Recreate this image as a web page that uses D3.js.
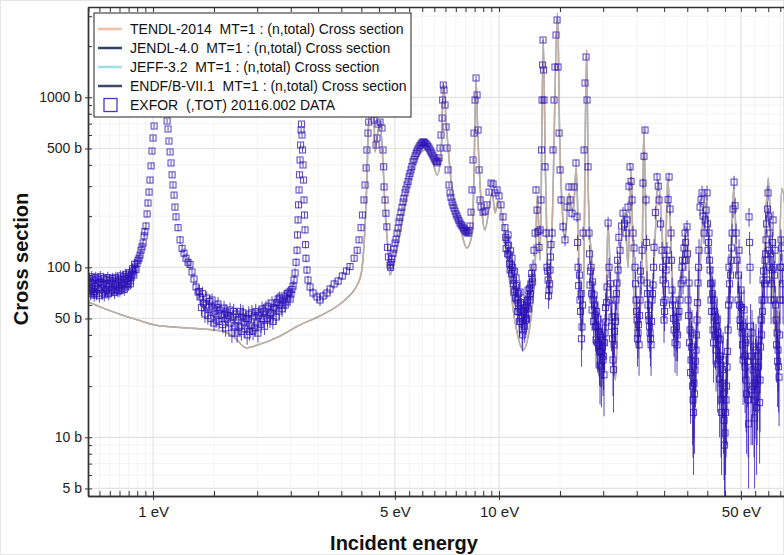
<!DOCTYPE html>
<html>
<head>
<meta charset="utf-8">
<script src="https://cdn.jsdelivr.net/npm/d3@7"></script>
<style>
  body { margin: 0; background: #fff; }
  text { font-family: "Liberation Sans", Arial, sans-serif; }
</style>
</head>
<body>
<div id="chart"></div>
<script>
// ---- data ----

// evaluated libraries (they coincide at this scale)
const libraries = ["TENDL-2014", "JENDL-4.0", "JEFF-3.2", "ENDF/B-VII.1"];
const libraryColors = ["#f2bfa2", "#2d4466", "#9fdede", "#3b4a6b"];

const evalEnergy = [0.649,0.703,0.813,0.905,1.013,1.262,1.583,1.726,1.857,2.012,2.328,2.660,3.039,3.471,3.710,3.89,4.00,4.07,4.12,4.15,4.18,4.21,4.27,4.30,4.34,4.38,4.45,4.53,4.63,4.69,4.78,4.84,5.01,5.28,5.53,5.91,6.11,6.41,6.63,6.81,6.90,7.07,7.30,7.72,8.07,8.37,8.47,8.58,8.68,8.93,9.10,9.55,9.74,9.94,10.55,11.10,11.73,12.29,12.73,12.90,13.14,13.42,13.61,13.79,13.97,14.26,14.76,14.96,15.28,15.50,15.93,16.38,16.71,17.03,17.46,17.91,18.13,18.58,19.17,19.77,20.36,20.65,21.20,21.70,22.10,23.10,23.60,24.10,24.40,25.00,25.90,26.20,26.70,27.30,28.30,28.80,29.60,30.10,30.70,31.60,32.20,33.40,35.00,35.60,36.80,38.10,39.70,40.70,42.20,44.80,46.50,47.70,48.70,50.40,53.20,56.10,58.00,60.00,61.50,63.60,65.60,69.90];
const evalSigma = [62.5,58.5,52.4,49,45.8,44.0,42.2,38.4,33.6,35.0,39.4,45.8,51.8,60.8,68.7,78.7,92.6,135,217,326,561,842,1657,2173,1100,476,600,706,374,209,126,90,118,209,339,469,490,428,349,490,1213,615,297,172,130,159,389,1264,615,209,166,273,209,249,110,49,32.6,45.8,110,266,110,2173,389,110,64.2,197,3140,615,197,145,273,209,389,100,41,1897,249,100,32.6,19.8,51,182,41,21.7,64.2,209,100,389,100,34,100,658,100,37.4,160,326,160,64.2,339,100,41,81,172,64.2,18.3,100,273,100,51,15.9,81,297,100,41,17.3,16.6,81,335,100,32.6,292,64];

// EXFOR 20116.002 : [energy eV, sigma b, d-sigma b]
const exforLow = [[0.653,73.5,6],[0.658,82.0,7],[0.662,79.8,6],[0.671,71.5,6],[0.676,68.7,6],[0.680,77.6,6],[0.689,74.5,6],[0.694,85.3,7],[0.698,82.0,7],[0.708,75.6,6],[0.713,70.6,6],[0.717,78.7,6],[0.727,72.5,6],[0.731,84.2,7],[0.736,79.8,6],[0.746,76.6,6],[0.751,71.5,6],[0.756,80.8,6],[0.766,74.5,6],[0.771,83.1,7],[0.777,78.7,6],[0.787,82.0,6],[0.792,72.5,6],[0.798,76.6,6],[0.808,84.2,7],[0.814,80.8,6],[0.819,78.7,6],[0.830,85.3,7],[0.835,76.6,6],[0.841,80.8,6],[0.852,88.9,7],[0.858,83.1,6],[0.864,87.7,7],[0.869,91.3,7],[0.875,95.1,7],[0.887,99.1,7],[0.899,105.6,7],[0.911,113,8],[0.923,126,8],[0.936,139,8],[0.942,153,9],[0.954,175,9],[0.961,206,10],[0.967,239,11],[0.974,277,12],[0.980,326,13],[0.987,395,15],[0.993,483,17],[1.000,576,19],[1.007,678,21],[1.020,900,27],[1.035,1300,35],[1.055,2000,50],[1.075,1400,40],[1.090,900,27],
  [1.098,725,21],[1.105,651,19],[1.112,553,17],[1.120,477,15],[1.127,411,13],[1.135,350,12],[1.142,305,11],[1.150,266,10],[1.157,226,9],[1.165,198,9],[1.181,171,8],[1.197,145,8],[1.213,129,8],[1.229,121,8],[1.245,113,8],[1.262,107,8],[1.279,104,8],[1.296,93.8,7],[1.313,85.3,7],[1.331,76.6,7],[1.349,71.5,7],[1.367,66.9,6],[1.399,61.6,6],[1.413,53.1,6],[1.429,66.0,6],[1.451,58.4,6],[1.481,64.2,6],[1.510,55.3,6],[1.521,49.0,5],[1.541,60.8,6],[1.572,52.4,5],[1.604,57.6,6],[1.625,54.6,6],[1.636,49.7,5],[1.669,56.1,6],[1.703,51.0,5],[1.725,45.2,5],[1.737,53.1,5],[1.772,44.6,5],[1.808,51.0,5],[1.832,47.7,5],[1.844,43.4,5],[1.882,49.7,5],[1.920,45.2,5],[1.945,42.2,5],[1.958,51.7,5],[1.998,47.0,5],[2.038,53.9,5],[2.065,56.9,6],[2.079,49.7,5],[2.121,57.6,6],[2.164,52.4,5],[2.178,49.0,5],[2.207,61.6,6],[2.252,56.9,6],[2.297,65.1,6],[2.313,55.3,6],[2.344,60.0,6],[2.391,67.8,6],[2.423,62.5,6],[2.439,66.0,6],[2.472,71.5,6],[2.505,69.6,6],[2.539,77.6,6],[2.556,84.2,6],[2.573,92.6,6],[2.590,107,6],[2.607,126,7],[2.615,155,8],[2.625,190,9],[2.633,233,10],[2.642,285,11],[2.650,350,13],[2.660,428,15],[2.669,524,17],[2.678,642,20],[2.686,696,21],[2.695,600,19],[2.704,490,16],[2.713,400,14],[2.722,326,12],[2.731,249,10],[2.740,203,9],[2.749,166,8],[2.758,136,7],[2.767,113,6],[2.785,96.4,5],[2.804,84.2,5],[2.843,76.6,5],[2.900,70.6,5],[2.979,66.9,5],[3.038,64.2,5],[3.100,67.8,5],[3.183,70.6,5],[3.247,74.5,5],[3.337,79.8,5],[3.429,83.1,5],[3.524,88.9,5],[3.622,95.1,5],[3.710,101,5],[3.812,113,5],[3.890,126,6],[3.939,145,6],[3.992,171,7],[4.03,203,8],[4.07,249,9],[4.10,305,10],[4.13,384,12],[4.15,490,14],[4.18,616,17],[4.20,715,19]];

const exforMid = [[4.24,964,26],[4.27,1264,32],[4.31,1447,35],[4.352,735,20],[4.411,524,15],[4.440,576,16],[4.470,696,19],[4.530,715,19],[4.590,660,18],[4.621,490,14],[4.64,390,12],[4.652,297,10],[4.683,249,9],[4.71,208,8],[4.74,173,7],[4.76,131,6],[4.79,115,5],[4.841,103,5],[4.873,107,5],[4.938,121,5],[5.005,139,6],[5.072,159,6],[5.140,185,7],[5.209,211,7],[5.279,242,8],[5.348,274,9],[5.421,305,10],[5.494,340,11],[5.567,374,12],[5.642,417,13],[5.718,452,14],[5.794,483,15],[5.872,510,15],[5.950,531,16],[6.030,546,16],[6.111,539,16],[6.193,524,16],[6.276,503,15],[6.360,477,14],[6.445,452,14],[6.532,428,13],[6.619,411,13],[6.708,440,13],[6.752,503,15],[6.797,600,18],[6.843,755,22],[6.87,964,28],[6.90,1181,34],[6.934,1104,32],[6.980,901,26],[7.027,669,20],[7.074,503,15],[7.122,374,12],[7.170,305,10],[7.217,274,9],[7.314,242,8],[7.412,223,8],[7.512,206,7],[7.613,193,7],[7.714,182,7],[7.818,175,7],[7.922,168,7],[8.029,162,7],[8.137,159,7],[8.245,175,7],[8.300,211,8],[8.355,285,10],[8.411,428,13],[8.467,616,18],[8.524,964,28],[8.581,1299,37],[8.638,1032,30],[8.696,642,19],[8.754,374,12],[8.812,249,9],[8.871,226,8],[8.990,211,8],[9.110,214,8],[9.232,233,8],[9.356,277,9],[9.481,313,10],[9.608,309,10],[9.736,274,9],[9.867,285,10],[9.999,263,9],[10.13,233,9],[10.27,198,9],[10.40,171,9],[10.48,129,10],[10.54,145,10],[10.62,155,12],[10.69,118,10],[10.76,96.4,10],[10.83,103,10],[10.90,113,12],[10.98,84.2,10],[11.05,71.5,10],[11.12,73.5,10],[11.20,86.5,12],[11.27,64.2,10],[11.35,61.6,10],[11.42,54.6,10],[11.50,71.5,12],[11.58,50.3,9],[11.66,42.8,9],[11.73,47.7,9],[11.81,60.0,10],[11.89,52.4,9],[11.97,49.0,9],[12.05,58.4,10],[12.13,73.5,11],[12.21,66.9,10],[12.29,64.2,10],[12.37,78.7,10],[12.46,86.5,11],[12.54,100,11]];

const exforHigh = [[12.62,126,10],[12.71,159,10],[12.79,285,14],[12.88,217,12],[12.96,162,10],[13.05,131,10],[13.14,166,10],[13.22,249,12],[13.27,490,20],[13.31,964,35],[13.36,1549,50],[13.40,2173,70],[13.45,1447,50],[13.49,964,35],[13.58,390,18],[13.67,159,10],[13.76,100,10],[13.86,84.2,10],[13.95,73.5,10],[14.04,96.4,10],[14.13,136,10],[14.23,159,11],[14.32,490,20],[14.42,964,35],[14.51,1507,50],[14.61,2325,70],[14.71,2849,90],[14.81,1507,50],[14.91,616,25],[15.01,374,18],[15.11,249,14],[15.31,173,12],[15.51,145,12],[15.72,226,14],[15.93,297,15],[16.04,249,14],[16.25,208,14],[16.47,297,15],[16.69,411,18],[16.80,198,14],[16.92,100,14],[17.14,64.2,14],[17.37,44.6,12],[17.49,159,14],[17.61,490,20],[17.72,1214,40],[17.84,1726,55],[17.96,964,35],[18.08,390,18],[18.20,159,14],[18.32,78.7,14],[18.45,100,14],[18.57,56.1,14],[18.70,64.2,14],[18.82,68.7,14],[18.94,52.4,13],[19.07,37.4,12],[19.20,44.6,13],[19.33,49.7,13],[19.45,35.0,12],[19.58,26.6,11],[19.71,31.7,12],[19.84,37.4,12],[19.98,28.5,11],[20.11,23.3,10],[20.25,41.1,12],[20.38,47.7,13],[20.52,76.6,14],[20.66,182,16],[20.79,100,14],[21.07,64.2,14],[21.21,51.0,13],[21.35,28.5,11],[21.50,35.0,12],[21.64,51.0,13],[21.78,64.2,14],[21.93,80.8,14],[22.08,96.4,15],[22.37,126,15],[22.82,208,18],[23.28,159,16],[23.59,226,18],[23.91,390,22],[24.23,249,18],[24.39,159,16],[24.72,100,15],[24.88,64.2,14],[25.05,49.0,13],[25.22,41.1,12],[25.39,35.0,12],[25.56,64.2,14],[25.73,84.2,15],[25.90,126,15],[26.07,313,20],[26.42,642,30],[26.60,249,18],[26.78,80.8,14],[26.95,60.0,14],[27.13,49.0,13],[27.32,41.1,12],[27.50,35.0,12],[27.68,64.2,14],[27.87,78.7,14],[28.05,131,15],[28.62,340,20],[29.00,249,18],[29.59,126,15],[29.78,84.2,15],[29.98,49.0,13],[30.18,64.2,14],[30.39,96.4,15],[30.59,126,15],[31.00,340,20],[31.41,159,16],[31.62,73.5,14],[31.83,64.2,14],[32.05,42.8,13],[32.48,41.1,13],[32.69,35.0,12],[32.91,51.0,13],[33.35,64.2,14],[33.80,100,15],[34.02,84.2,15],[34.48,159,16],[34.71,110,15],[34.93,173,16],[35.18,64.2,14],[35.41,80.8,15],[35.65,42.8,15],[35.89,28.5,13],[36.12,41.1,15],[36.36,16.6,9],[36.60,20.8,11],[36.84,24.9,12],[37.09,32.6,14],[37.34,49.0,16],[37.59,80.8,18],[37.84,126,20],[38.10,226,25],[38.61,274,28],[39.13,159,22],[39.66,217,25],[39.92,274,28],[40.19,126,20],[40.45,159,22],[40.72,96.4,20],[41.00,64.2,18],[41.27,80.8,20],[41.54,42.8,16],[41.82,64.2,18],[42.10,51.0,17],[42.39,32.6,14],[42.67,49.0,16],[42.96,41.1,15],[43.24,28.5,13],[43.52,37.4,15],[43.82,16.6,9],[44.11,20.8,11],[44.40,28.5,13],[44.70,12.6,7],[45.00,10.6,6],[45.30,16.6,9],[45.60,25.9,12],[45.91,42.8,16],[46.21,100,20],[46.52,64.2,18],[46.83,110,20],[47.15,159,22],[47.78,317,28],[48.42,159,22],[49.06,64.2,18],[49.39,126,20],[49.72,49.0,16],[50.05,73.5,18],[50.39,41.1,15],[50.73,28.5,13],[51.07,56.1,17],[51.40,25.9,12],[51.75,21.7,11],[52.10,37.4,15],[52.45,16.6,9],[52.79,198,25],[53.14,100,20],[53.50,19.0,10],[53.85,41.1,15],[54.21,24.9,12],[54.57,16.6,9],[54.94,20.8,11],[55.31,32.6,14],[55.68,19.0,10],[56.04,25.9,12],[56.42,37.4,15],[56.80,21.7,11],[57.18,49.0,16],[57.56,64.2,18],[57.94,84.2,18],[58.33,64.2,18],[58.72,110,20],[59.11,145,22],[59.51,84.2,18],[59.91,274,28],[60.31,126,20],[60.71,159,22],[61.11,64.2,18],[61.52,96.4,20],[61.94,190,24],[62.35,64.2,18],[62.77,126,20],[63.19,49.0,16],[63.61,41.1,15],[64.03,32.6,14],[64.46,22.6,11],[64.89,64.2,18],[65.32,145,22],[65.76,100,20],[66.20,64.2,18]];

// further points in the dense and noisy stretches (same data set)
const exforScatter = [[0.655,86,7],[0.660,70,6],[0.665,88,7],[0.668,75,6],[0.674,84,7],[0.678,72,6],[0.683,87,7],[0.686,70,6],[0.692,80,6],[0.700,68,6],[0.704,88,7],[0.711,81,7],[0.720,86,7],[0.723,69,6],[0.733,74,6],[0.740,87,7],[0.743,70,6],[0.749,84,7],[0.760,73,6],[0.763,86,7],[0.774,71,6],[0.781,87,7],[0.784,74,6],[0.795,85,7],[0.802,73,6],[0.805,89,7],[0.811,75,6],[0.823,88,7],[0.826,74,6],[0.833,91,7],[0.845,86,7],[0.848,79,6],[0.855,93,7],[0.861,80,6],[0.872,98,8],[0.880,90,7],[0.884,104,8],[0.893,97,8],[0.905,110,8],[0.917,118,9],[0.929,132,9],[0.947,162,10],
  [1.36,72,7],[1.38,58,6],[1.39,70,7],[1.42,60,6],[1.44,52,6],[1.46,63,6],[1.47,50,5],[1.49,57,6],[1.50,47,5],[1.53,58,6],[1.55,48,5],[1.56,56,6],[1.59,46,5],[1.61,53,6],[1.62,44,5],[1.65,52,6],[1.68,47,5],[1.69,41,5],[1.71,55,6],[1.75,41,5],[1.76,49,5],[1.79,55,6],[1.80,42,5],[1.82,54,6],[1.86,50,5],[1.87,40,5],[1.89,53,6],[1.90,42,5],[1.93,54,6],[1.97,44,5],[1.98,55,6],[2.01,41,5],[2.02,52,6],[2.05,46,5],[2.09,55,6],[2.10,45,5],[2.14,50,5],[2.15,59,6],[2.19,54,6],[2.22,48,5],[2.23,58,6],[2.27,51,5],[2.28,62,6],[2.32,66,6],[2.36,57,6],[2.37,64,6],[2.41,60,6],[2.45,70,6],[2.49,65,6],[2.52,74,6],
  [4.86,100,5],[4.90,112,5],[4.97,128,5],[5.04,146,6],[5.11,170,6],[5.17,196,7],[5.24,225,7],[5.31,255,8],[5.38,288,9],[5.46,320,10],[5.53,356,11],[5.60,392,12],[5.68,432,13],[5.76,468,14],[5.83,497,15],[5.91,520,15],[5.99,540,16],[6.07,545,16],[6.15,532,16],[6.23,514,15],[6.32,490,14],[6.40,465,14],[6.49,440,13],[6.58,418,13],[6.66,420,13],[7.26,258,8],[7.36,232,8],[7.46,214,7],[7.56,200,7],[7.66,188,7],[7.77,178,7],[7.87,171,7],[7.98,165,7],[8.08,160,7],[8.19,165,7],
  [10.45,150,12],[10.58,120,12],[10.65,135,14],[10.72,105,12],[10.80,125,14],[10.87,92,12],[10.94,100,12],[11.02,80,11],[11.09,95,12],[11.16,66,10],[11.23,78,11],[11.31,55,9],[11.39,70,10],[11.46,48,9],[11.54,62,10],[11.62,56,10],[11.70,40,8],[11.77,55,9],[11.85,45,9],[11.93,58,10],[12.01,50,9],[12.09,64,10],[12.17,57,10],[12.25,75,11],[12.33,70,10],[12.42,92,11],[12.50,82,11],
  [13.82,95,12],[13.90,68,11],[14.00,80,11],[14.08,115,12],[16.86,140,15],[16.98,78,14],[17.08,90,14],[17.20,55,13],[17.26,70,14],[17.31,38,12],[17.43,60,13],
  [18.26,120,15],[18.38,95,14],[18.51,70,14],[18.63,82,14],[18.76,48,13],[18.88,60,14],[19.01,45,13],[19.14,55,13],[19.26,36,12],[19.39,42,12],[19.52,32,12],[19.64,40,12],[19.77,26,11],[19.91,34,12],[20.04,30,11],[20.18,36,12],[20.31,58,13],[20.45,62,14],
  [21.00,80,14],[21.14,45,13],[21.28,38,12],[21.42,25,11],[21.57,42,12],[21.71,48,13],[21.86,70,14],[22.0,110,15],[22.2,150,16],[22.6,175,17],[23.05,180,17],[23.45,190,17],[23.75,300,20],[24.07,320,20],[24.55,130,15],[24.80,80,14],[24.97,55,13],[25.13,38,12],[25.30,46,13],[25.47,52,13],[25.64,95,14],[26.24,450,25],[26.69,140,15],[26.86,70,14],[27.04,52,13],[27.22,45,13],[27.41,38,12],[27.59,48,13],[27.77,70,14],[27.96,100,15],[28.3,210,18],[28.85,300,20],[29.3,180,17],[29.7,100,15],[29.88,62,14],[30.08,55,13],[30.28,80,14],[30.49,110,15],[30.8,250,18],[31.2,220,18],[31.5,110,15],[31.72,60,14],[31.94,50,13],[32.26,36,12],[32.58,45,13],[32.8,40,12],[33.1,55,13],[33.6,80,14],[33.9,110,15],[34.25,130,15],[34.6,140,16],[35.05,120,15],[35.3,52,14],[35.53,36,14],[35.77,24,12],[36.0,34,14],[36.24,20,11],[36.48,14,8],[36.72,18,10],[36.96,28,13],[37.21,40,15],[37.47,62,17],[37.72,100,20],
  [38.35,250,26],[38.87,200,24],[39.4,190,23],[40.05,180,22],[40.32,140,20],[40.58,110,20],[40.86,80,19],[41.13,55,17],[41.4,70,18],[41.68,36,15],[41.96,55,17],[42.24,40,15],[42.53,45,16],[42.81,27,13],[43.1,38,15],[43.38,22,12],[43.67,30,14],[43.96,14,8],[44.25,25,12],[44.55,18,10],[44.85,9,5],[45.15,14,8],[45.45,20,11],[45.75,32,14],[46.06,60,18],[46.37,80,19],[46.67,90,20],[47.0,130,21],[47.45,220,25],[48.1,230,25],[48.74,110,20],[49.23,90,19],[49.55,60,18],[49.88,45,16],[50.22,58,17],[50.56,35,14],[50.9,45,16],[51.23,30,14],[51.58,36,14],[51.92,18,10],[52.27,28,13],[52.62,12,7],[52.97,140,22],[53.32,45,16],[53.67,30,14],[54.03,20,11],[54.39,34,14],[54.75,13,8],[55.12,26,12],[55.5,15,9],[55.86,22,11],[56.23,30,14],[56.61,16,9],[56.99,34,14],[57.37,40,15],[57.75,55,17],[58.13,95,19],[58.52,80,19],[58.92,120,21],[59.31,180,23],[59.71,220,25],[60.11,200,24],[60.51,100,20],[60.91,120,21],[61.31,80,19],[61.73,140,22],[62.15,100,20],[62.56,90,19],[62.98,60,18],[63.4,35,14],[63.82,28,13],[64.24,26,12],[64.67,40,15],[65.1,100,20],[65.54,130,21],[65.98,80,19]];

// axes
const xDomain = [0.6486, 74.1];
const yDomain = [4.515, 3398];
const xMajorTicks = [1, 5, 10, 50];
const xMinorTicks = [0.65,0.7,0.75,0.8,0.85,0.9,0.95,1.5,2,2.5,3,3.5,4,4.5,5.5,6,6.5,7,7.5,8,8.5,9,9.5,15,20,25,30,35,40,45,55,60,65,70];
const yMajorTicks = [5, 10, 50, 100, 500, 1000];
const yMinorTicks = [6,7,8,9,20,30,40,60,70,80,90,200,300,400,600,700,800,900,2000,3000];

const legendLabels = [
  "TENDL-2014  MT=1 : (n,total) Cross section",
  "JENDL-4.0  MT=1 : (n,total) Cross section",
  "JEFF-3.2  MT=1 : (n,total) Cross section",
  "ENDF/B-VII.1  MT=1 : (n,total) Cross section",
  "EXFOR  (,TOT) 20116.002 DATA"
];

// ---- drawing ----
const width = 784, height = 555;
const plot = {left: 88, top: 7, right: 800, bottom: 496};
const exforColor = "#2a0fb4";

const svg = d3.select("#chart")
    .append("svg")
    .attr("width", width)
    .attr("height", height);

// faint outer frame
svg.append("rect")
    .attr("x", 0.5).attr("y", 0.5)
    .attr("width", width - 1).attr("height", height - 1)
    .attr("fill", "#fff").attr("stroke", "#e6e6e6");

const x = d3.scaleLog().domain(xDomain).range([plot.left, plot.right]);
const y = d3.scaleLog().domain(yDomain).range([plot.bottom, plot.top]);

svg.append("clipPath").attr("id", "clip")
  .append("rect")
    .attr("x", plot.left).attr("y", plot.top)
    .attr("width", plot.right - plot.left).attr("height", plot.bottom - plot.top);

// grid
const grid = svg.append("g");
grid.selectAll(".vmin").data(xMinorTicks).enter().append("line")
    .attr("x1", d => x(d)).attr("x2", d => x(d))
    .attr("y1", plot.top).attr("y2", plot.bottom)
    .attr("stroke", "#f3f3f3");
grid.selectAll(".hmin").data(yMinorTicks).enter().append("line")
    .attr("x1", plot.left).attr("x2", plot.right)
    .attr("y1", d => y(d)).attr("y2", d => y(d))
    .attr("stroke", "#f3f3f3");
grid.selectAll(".vmaj").data(xMajorTicks).enter().append("line")
    .attr("x1", d => x(d)).attr("x2", d => x(d))
    .attr("y1", plot.top).attr("y2", plot.bottom)
    .attr("stroke", "#e3e3e3").attr("stroke-width", 1.2);
grid.selectAll(".hmaj").data(yMajorTicks).enter().append("line")
    .attr("x1", plot.left).attr("x2", plot.right)
    .attr("y1", d => y(d)).attr("y2", d => y(d))
    .attr("stroke", "#e3e3e3").attr("stroke-width", 1.2);

const inner = svg.append("g").attr("clip-path", "url(#clip)");

// evaluated curves
const evalPoints = evalEnergy.map((e, i) => [e, evalSigma[i]]);
const line = d3.line()
    .x(d => x(d[0]))
    .y(d => y(d[1]))
    .curve(d3.curveMonotoneX);

const drawOrder = [1, 2, 3, 0]; // TENDL ends up on top
drawOrder.forEach(i => {
  inner.append("path")
      .datum(evalPoints)
      .attr("fill", "none")
      .attr("stroke", libraryColors[i])
      .attr("stroke-width", 1.5)
      .attr("stroke-opacity", i === 0 ? 0.6 : 0.4)
      .attr("d", line);
});

// EXFOR points with error bars
const exfor = exforLow.concat(exforMid, exforHigh, exforScatter);
const pts = inner.append("g");
pts.selectAll(".err").data(exfor).enter().append("line")
    .attr("x1", d => x(d[0])).attr("x2", d => x(d[0]))
    .attr("y1", d => y(d[1] + d[2]))
    .attr("y2", d => y(Math.max(d[1] - d[2], 1)))
    .attr("stroke", exforColor)
    .attr("stroke-width", 1.1)
    .attr("stroke-opacity", 0.7);
pts.selectAll(".pt").data(exfor).enter().append("rect")
    .attr("x", d => x(d[0]) - 3)
    .attr("y", d => y(d[1]) - 3)
    .attr("width", 6).attr("height", 6)
    .attr("fill", "none")
    .attr("stroke", exforColor)
    .attr("stroke-width", 1.1)
    .attr("stroke-opacity", 0.72);

// axes
const axisColor = "#333";
function styleAxis(g) {
  g.selectAll(".domain").attr("stroke", axisColor).attr("stroke-width", 1.4);
  g.selectAll(".tick line").attr("stroke", axisColor);
  g.selectAll("text").attr("fill", "#222");
}

svg.append("g")
    .attr("transform", `translate(0,${plot.bottom})`)
    .call(d3.axisBottom(x).tickValues(xMajorTicks).tickSize(4).tickSizeOuter(0)
      .tickFormat(d => d + " eV"))
    .call(styleAxis)
    .call(g => g.selectAll("text").attr("font-size", "15px").attr("dy", "0.95em"));
svg.append("g")
    .attr("transform", `translate(0,${plot.bottom})`)
    .call(d3.axisBottom(x).tickValues(xMajorTicks.concat(xMinorTicks)).tickSize(-5).tickSizeOuter(0).tickFormat(""))
    .call(styleAxis);
svg.append("g")
    .attr("transform", `translate(0,${plot.top})`)
    .call(d3.axisTop(x).tickValues(xMajorTicks.concat(xMinorTicks)).tickSize(-5).tickSizeOuter(0).tickFormat(""))
    .call(styleAxis);

svg.append("g")
    .attr("transform", `translate(${plot.left},0)`)
    .call(d3.axisLeft(y).tickValues(yMajorTicks).tickSize(3).tickSizeOuter(0)
      .tickFormat(d => d + " b"))
    .call(styleAxis)
    .call(g => g.selectAll("text").attr("font-size", "14px"));
svg.append("g")
    .attr("transform", `translate(${plot.left},0)`)
    .call(d3.axisLeft(y).tickValues(yMajorTicks.concat(yMinorTicks)).tickSize(-4).tickSizeOuter(0).tickFormat(""))
    .call(styleAxis);

// axis titles
svg.append("text")
    .attr("x", 404).attr("y", 550)
    .attr("text-anchor", "middle")
    .attr("font-size", "20px").attr("font-weight", "bold")
    .attr("fill", "#111")
    .text("Incident energy");
svg.append("text")
    .attr("transform", "translate(28,259) rotate(-90)")
    .attr("text-anchor", "middle")
    .attr("font-size", "20px").attr("font-weight", "bold")
    .attr("fill", "#111")
    .text("Cross section");

// legend
const legend = svg.append("g").attr("transform", "translate(94,13)");
legend.append("rect")
    .attr("width", 317).attr("height", 104)
    .attr("fill", "#fff").attr("stroke", "#222");
const rowY = d3.scalePoint().domain(d3.range(legendLabels.length)).range([16, 92]);
libraries.forEach((lib, i) => {
  legend.append("line")
      .attr("x1", 4).attr("x2", 28)
      .attr("y1", rowY(i)).attr("y2", rowY(i))
      .attr("stroke", libraryColors[i]).attr("stroke-width", 2.5);
});
legend.append("rect")
    .attr("x", 10).attr("y", rowY(4) - 6.5)
    .attr("width", 13).attr("height", 13)
    .attr("fill", "none").attr("stroke", "#4a38c8").attr("stroke-width", 1.3);
legend.selectAll(".lab").data(legendLabels).enter().append("text")
    .attr("x", 36).attr("y", (d, i) => rowY(i))
    .attr("dy", "0.35em")
    .attr("font-size", "14px")
    .attr("fill", "#111")
    .style("white-space", "pre")
    .text(d => d);
</script>
</body>
</html>
